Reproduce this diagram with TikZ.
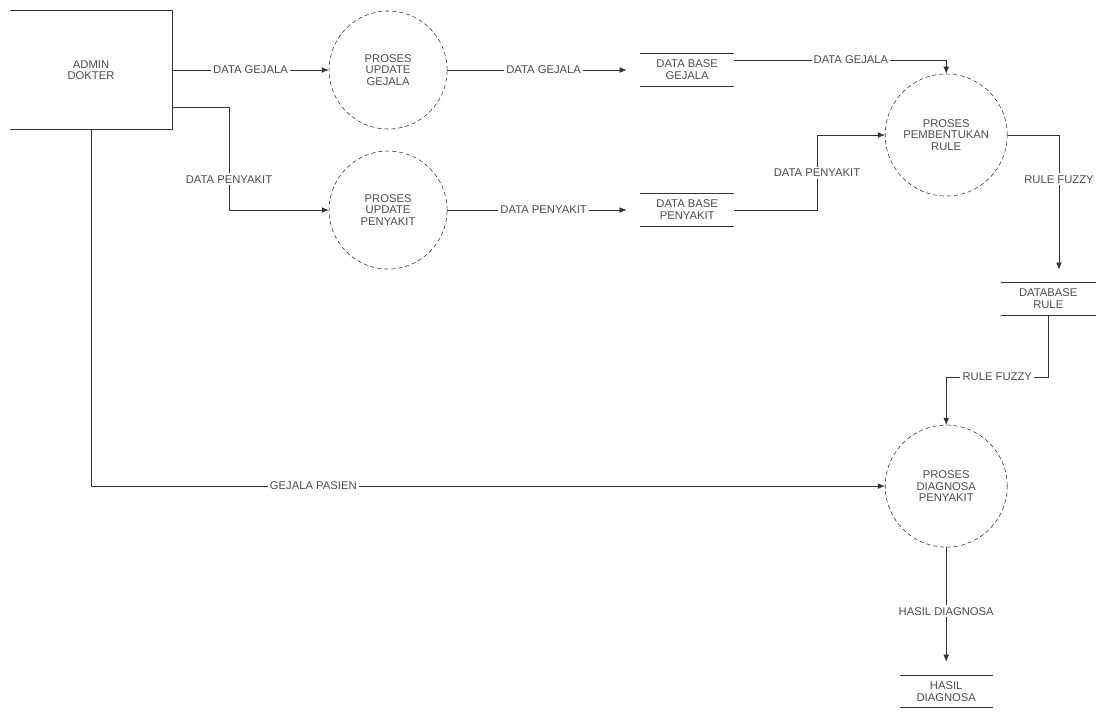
\documentclass[tikz,border=0pt]{standalone}
\usepackage{fontspec}
\setmainfont{Liberation Sans}
\usetikzlibrary{arrows.meta,positioning,calc}

\begin{document}
\begin{tikzpicture}[x=0.025cm,y=-0.025cm,>={Latex[length=5pt,width=4pt]},on grid,
    font=\fontsize{8}{8}\selectfont,color=black!80,text=black!70,thin,
    proc/.style={circle,draw,dash pattern=on 3pt off 2pt,align=center,inner sep=0pt,minimum size=2.95cm},
    ext/.style={rectangle,align=center,minimum width=4.05cm,minimum height=2.95cm},
    store/.style={rectangle,align=center,inner sep=0pt,minimum width=2.35cm,minimum height=0.8cm,
        font=\fontsize{8}{8.5}\selectfont},
    tostore/.style={->,shorten >=0.33cm},
    lbl/.style={fill=white,inner sep=1.5pt}]
    \useasboundingbox (0,0) rectangle (1100,712);

    \node[ext] (admin) at (91,70) {ADMIN\\DOKTER};
    \node[proc] (updgejala) [right=7.425cm of admin] {PROSES\\UPDATE\\GEJALA};
    \node[proc] (updpenyakit) [below=3.5cm of updgejala] {PROSES\\UPDATE\\PENYAKIT};
    \node[store] (dbgejala) [right=7.475cm of updgejala] {DATA BASE\\GEJALA};
    \node[store] (dbpenyakit) [right=7.475cm of updpenyakit] {DATA BASE\\PENYAKIT};
    \node[proc,minimum size=3.05cm] (pembentukan) [below right=1.625cm and 6.475cm of dbgejala] {PROSES\\PEMBENTUKAN\\RULE};
    \node[store] (dbrule) [below right=4.1cm and 2.55cm of pembentukan] {DATABASE\\RULE};
    \node[proc,minimum size=3.05cm] (diagnosa) [below=8.775cm of pembentukan] {PROSES\\DIAGNOSA\\PENYAKIT};
    \node[store,minimum width=2.3cm] (hasil) [below=5.125cm of diagnosa] {HASIL\\DIAGNOSA};

    % external entity, open on the left
    \draw (admin.north west) -- (admin.north east) -- (admin.south east) -- (admin.south west);
    % data stores
    \foreach \s in {dbgejala,dbpenyakit,dbrule,hasil}
        \draw (\s.north west) -- (\s.north east) (\s.south west) -- (\s.south east);

    \coordinate (pbend) at (229,107);
    \coordinate (gbend) at (0,60);
    \coordinate (qbend) at (817,0);
    \coordinate (sbend) at (1059,0);
    \coordinate (rbend) at (0,377);

    \draw[->] (admin) -- node[lbl]{DATA GEJALA} (updgejala);
    \draw[->] (admin.east |- pbend) -- (pbend) -- node[lbl,pos=0.7]{DATA PENYAKIT} (pbend |- updpenyakit) -- (updpenyakit);
    \draw[tostore] (updgejala) -- node[lbl]{DATA GEJALA} (dbgejala);
    \draw[tostore] (updpenyakit) -- node[lbl]{DATA PENYAKIT} (dbpenyakit);
    \draw[->] (dbgejala.east |- gbend) -- node[lbl,pos=0.55]{DATA GEJALA} (pembentukan |- gbend) -- (pembentukan);
    \draw[->] (dbpenyakit) -- (dbpenyakit -| qbend) -- node[lbl]{DATA PENYAKIT} (qbend |- pembentukan) -- (pembentukan);
    \draw[tostore] (pembentukan) -- (pembentukan -| sbend) -- node[lbl,pos=0.3]{RULE FUZZY} (sbend |- dbrule.north);
    \draw[->] (dbrule) -- (dbrule |- rbend) -- node[lbl]{RULE FUZZY} (diagnosa |- rbend) -- (diagnosa);
    \draw[->] (admin) |- node[lbl,pos=0.64]{GEJALA PASIEN} (diagnosa);
    \draw[tostore] (diagnosa) -- node[lbl]{HASIL DIAGNOSA} (hasil);

\end{tikzpicture}
\end{document}
